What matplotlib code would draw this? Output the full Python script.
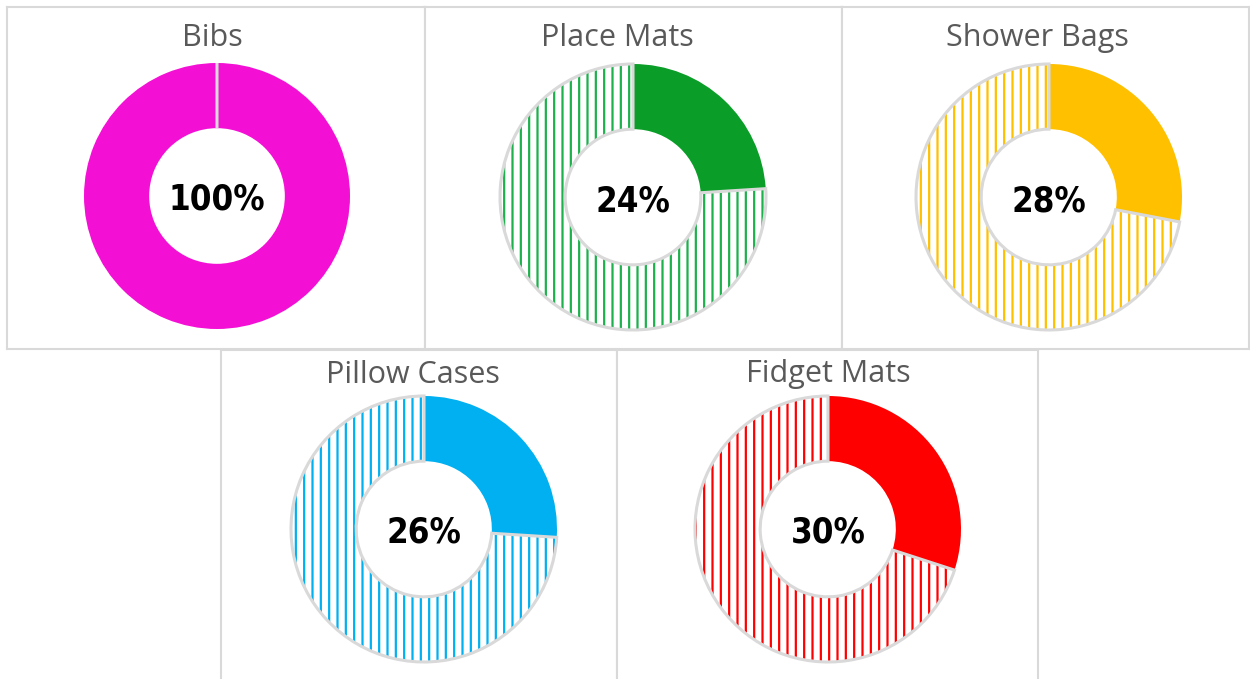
import matplotlib
matplotlib.use("Agg")
import matplotlib.pyplot as plt
from matplotlib.patches import Wedge

# data
products = ['Bibs', 'Place Mats', 'Shower Bags', 'Pillow Cases', 'Fidget Mats']
done_pct = [100, 24, 28, 26, 30]
colors = ['#F40FD4', '#0A9E28', '#FFC000', '#00B0F0', '#FF0000']
hatch_colors = ['#F40FD4', '#1DB04C', '#FFC000', '#00B0F0', '#FF0000']

# panel boxes in pixels (x0, y0, x1, y1) and donut centres
W, H = 1250, 679
boxes = [(7, 7, 425, 349), (425, 7, 842, 349), (842, 7, 1249, 349),
         (221, 350, 617, 700), (617, 350, 1038, 700)]
centres = [(217, 196), (633, 197), (1049, 197), (424, 529), (828, 529)]
title_pos = [(212, 38), (617, 38), (1037, 38), (413, 375), (828, 374)]
R = 133  # outer radius in pixels

plt.rcParams['hatch.linewidth'] = 1.6

fig = plt.figure(figsize=(12.5, 6.79), dpi=100)

for i, name in enumerate(products):
    x0, y0, x1, y1 = boxes[i]
    ax = fig.add_axes([x0 / W, 1 - y1 / H, (x1 - x0) / W, (y1 - y0) / H])
    cx, cy = centres[i]
    vals = [done_pct[i], 100 - done_pct[i]]
    wedges, _ = ax.pie(vals, colors=[colors[i], 'white'], startangle=90,
                       counterclock=False, radius=1, frame=True,
                       wedgeprops=dict(width=0.49, linewidth=0))
    w = wedges[1]
    w.set_hatch('||')
    w.set_edgecolor(hatch_colors[i])
    ax.add_patch(Wedge(w.center, w.r, w.theta1, w.theta2, width=w.width,
                       facecolor='none', edgecolor='#D9D9D9', linewidth=2.2,
                       zorder=5))
    # map data units to pixels
    ax.set_aspect('auto')
    ax.set_xlim(-(cx - x0) / R, (x1 - cx) / R)
    ax.set_ylim(-(y1 - cy) / R, (cy - y0) / R)
    ax.set_xticks([])
    ax.set_yticks([])
    for s in ax.spines.values():
        s.set_color('#D9D9D9')
        s.set_linewidth(1.5)
    ax.text(0, -4 / R, f'{done_pct[i]}%', ha='center', va='center', fontsize=25,
            fontweight='bold', fontstretch='condensed', family=['DejaVu Sans'],
            color='black', zorder=6)
    tx, ty = title_pos[i]
    ax.text((tx - cx) / R, (cy - ty) / R, name, ha='center', va='center',
            fontsize=22, color='#595959', family=['Open Sans', 'DejaVu Sans'])

fig.savefig('out.png', dpi=100, facecolor='white')
